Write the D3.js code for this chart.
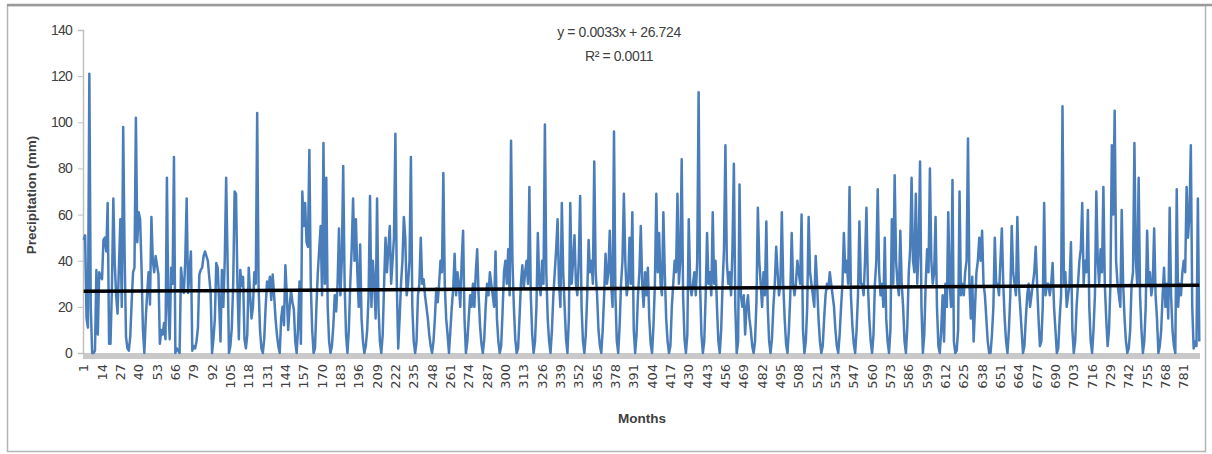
<!DOCTYPE html>
<html>
<head>
<meta charset="utf-8">
<script src="https://cdn.jsdelivr.net/npm/d3@7"></script>
<style>
  body { margin: 0; background: #fff; }
  svg text { fill: #404040; }
</style>
</head>
<body>
<div id="chart"></div>
<script>
////////////////////////////////////////////////////////////////////
////////////////////////////  Data  ////////////////////////////////
// monthly precipitation (mm), 12 values per row
const block1 = [
  49, 51, 15, 11, 121, 20, 0, 0, 1, 36, 8, 35,
  33, 32, 49, 50, 44, 65, 4, 4, 28, 67, 39, 25,
  17, 38, 58, 20, 98, 43, 7, 2, 1, 7, 22, 35,
  37, 102, 48, 61, 58, 37, 10, 0, 15, 26, 35, 21,
  59, 40, 35, 42, 38, 34, 4, 10, 8, 13, 6, 76,
  20, 6, 37, 30, 85, 0, 2, 1, 0, 37, 30, 26,
  40, 67, 26, 35, 44, 1, 3, 2, 5, 11, 34, 36,
  37, 42, 44, 42, 40, 33, 26, 0, 6, 15, 39, 37,
  22, 5, 36, 20, 40, 76, 40, 0, 3, 11, 30, 70,
  69, 30, 6, 36, 29, 33, 6, 2, 8, 37, 25, 15,
  20, 35, 30, 104, 29, 10, 2, 0, 6, 20, 31, 28
];
const block2 = [
  33, 23, 34, 25, 15, 8, 3, 0, 15, 20, 12, 38,
  25, 10, 20, 27, 22, 19, 5, 0, 11, 31, 4, 70,
  55, 65, 48, 46, 88, 30, 10, 0, 2, 20, 35, 45,
  55, 25, 91, 30, 76, 20, 5, 0, 3, 12, 25, 18,
  30, 54, 25, 40, 81, 30, 8, 0, 10, 30, 45, 67,
  40, 58, 35, 20, 47, 15, 5, 0, 3, 10, 25, 68,
  20, 40, 30, 15, 67, 20, 5, 0, 8, 30, 50, 35,
  45, 55, 30, 40, 50, 95, 30, 2, 15, 30, 40, 59,
  50, 25, 30, 40, 85, 20, 5, 0, 5, 25, 30, 50,
  30, 32, 25, 20, 15, 8, 3, 0, 5, 15, 28, 22,
  30, 40, 35, 78, 30, 15, 8, 0, 10, 20, 28, 43
];
const block3 = [
  25, 35, 30, 20, 40, 53, 15, 0, 5, 15, 25, 20,
  30, 20, 35, 45, 25, 12, 4, 0, 6, 20, 30, 25,
  35, 30, 25, 20, 44, 15, 5, 0, 3, 18, 35, 40,
  30, 45, 25, 92, 40, 20, 6, 0, 2, 15, 30, 38,
  28, 35, 40, 30, 72, 25, 8, 0, 5, 20, 52, 30,
  25, 40, 30, 99, 35, 15, 5, 0, 10, 25, 35, 45,
  58, 30, 20, 65, 35, 20, 6, 0, 15, 65, 30, 40,
  51, 30, 25, 40, 68, 20, 5, 0, 8, 25, 49, 35,
  40, 30, 83, 35, 25, 10, 3, 0, 10, 25, 43, 30,
  35, 53, 30, 20, 96, 25, 5, 0, 12, 30, 40, 69,
  40, 25, 30, 50, 30, 61, 10, 0, 8, 25, 35, 55
];
const block4 = [
  30, 20, 35, 25, 37, 15, 4, 0, 12, 30, 69, 35,
  52, 30, 25, 61, 35, 15, 5, 0, 3, 20, 30, 40,
  35, 69, 30, 40, 84, 25, 6, 0, 8, 58, 30, 25,
  30, 35, 25, 40, 113, 30, 8, 0, 5, 25, 52, 30,
  35, 25, 61, 30, 40, 20, 5, 0, 10, 30, 45, 90,
  40, 30, 35, 25, 45, 82, 20, 0, 5, 73, 25, 20,
  25, 8, 20, 25, 15, 10, 3, 0, 5, 22, 63, 40,
  30, 20, 35, 25, 57, 20, 5, 0, 6, 20, 30, 46,
  35, 25, 30, 61, 30, 15, 4, 0, 10, 25, 52, 30,
  25, 30, 40, 35, 30, 60, 10, 0, 5, 20, 59, 35,
  30, 25, 20, 42, 30, 15, 5, 0, 3, 15, 25, 30
];
const block5 = [
  28, 35, 30, 25, 20, 10, 3, 0, 8, 20, 30, 52,
  35, 40, 30, 72, 25, 12, 4, 0, 10, 25, 57, 30,
  30, 25, 40, 63, 30, 15, 5, 0, 8, 30, 40, 71,
  35, 25, 30, 20, 50, 15, 5, 0, 10, 58, 30, 77,
  40, 30, 25, 53, 30, 20, 5, 0, 12, 35, 45, 76,
  40, 35, 69, 30, 45, 83, 20, 0, 8, 30, 45, 35,
  80, 40, 30, 35, 59, 20, 3, 0, 10, 25, 5, 30,
  20, 61, 30, 20, 75, 5, 0, 1, 10, 70, 25, 30,
  25, 35, 40, 93, 30, 15, 33, 5, 20, 35, 40, 50,
  40, 53, 30, 25, 15, 5, 0, 0, 8, 20, 50, 30,
  30, 25, 40, 54, 30, 15, 5, 0, 10, 25, 55, 35
];
const block6 = [
  30, 25, 59, 30, 20, 10, 0, 3, 15, 25, 30, 20,
  25, 30, 35, 46, 30, 15, 3, 5, 20, 65, 25, 30,
  30, 25, 30, 39, 20, 10, 0, 2, 15, 25, 107, 30,
  35, 20, 25, 30, 48, 10, 0, 5, 20, 30, 40, 45,
  65, 30, 40, 35, 62, 20, 5, 0, 10, 25, 70, 40,
  30, 45, 35, 72, 30, 15, 3, 10, 30, 90, 60, 105,
  40, 30, 25, 20, 62, 30, 15, 5, 0, 2, 10, 30,
  35, 91, 40, 30, 76, 25, 10, 0, 5, 20, 53, 30,
  35, 25, 30, 54, 25, 15, 0, 3, 10, 25, 37, 20,
  30, 15, 63, 25, 10, 3, 0, 71, 20, 30, 25, 35,
  40, 35, 72, 50, 60, 90, 20, 2, 5, 3, 67, 5
];

const yTicks = [0, 20, 40, 60, 80, 100, 120, 140];
const xTickStep = 13; // labels 1, 14, 27, ... 781
const trendSlope = 0.0033;
const trendIntercept = 26.724;
const equationLines = ["y = 0.0033x + 26.724", "R² = 0.0011"];

const precip = [].concat(block1, block2, block3, block4, block5, block6);
const data = precip.map((v, i) => ({ month: i + 1, value: v }));
const months = data.map((d) => d.month);
const xTicks = months.filter((m) => (m - 1) % xTickStep === 0);

////////////////////////////////////////////////////////////////////
////////////////////////////  Init  ////////////////////////////////
const width = 1212;
const height = 454;
const margin = { top: 30, right: 12, bottom: 101, left: 83 };
const narrowFont = "'Liberation Sans', Arial, sans-serif";

const svg = d3
  .select("#chart")
  .append("svg")
  .attr("width", width)
  .attr("height", height);

// frame of the chart area
svg
  .append("rect")
  .attr("x", 7.5)
  .attr("y", 5.5)
  .attr("width", 1198)
  .attr("height", 446)
  .attr("fill", "#fff")
  .attr("stroke", "#b4b4b4")
  .attr("stroke-width", 1.5);
svg
  .append("line")
  .attr("x1", 7)
  .attr("x2", width)
  .attr("y1", 5)
  .attr("y2", 5)
  .attr("stroke", "#9a9a9a")
  .attr("stroke-width", 2.5);

// scales
const xScale = d3
  .scaleBand()
  .domain(months)
  .range([margin.left, width - margin.right]);
const xPos = (m) => xScale(m) + xScale.bandwidth() / 2;

const yScale = d3
  .scaleLinear()
  .domain([0, 140])
  .range([height - margin.bottom, margin.top]);

// floor band under the plot
svg
  .append("rect")
  .attr("x", margin.left)
  .attr("y", yScale(0))
  .attr("width", xScale.range()[1] - margin.left)
  .attr("height", 6)
  .attr("fill", "#c9c9c9");

// y axis
const yAxis = d3.axisLeft(yScale).tickValues(yTicks).tickSize(5).tickPadding(6);
const yAxisGroup = svg
  .append("g")
  .attr("transform", `translate(${margin.left}, 0)`)
  .call(yAxis);
yAxisGroup.select(".domain").attr("stroke", "#c0c0c0").attr("stroke-width", 1.5);
yAxisGroup.selectAll(".tick line").attr("stroke", "#c0c0c0");
yAxisGroup
  .selectAll("text")
  .attr("font-family", narrowFont)
  .attr("font-size", 14)
  .attr("letter-spacing", -0.8)
  .attr("fill", "#404040");

// x axis (rotated labels)
const xAxis = d3.axisBottom(xScale).tickValues(xTicks).tickSize(0).tickPadding(0);
const xAxisGroup = svg
  .append("g")
  .attr("transform", `translate(0, ${yScale(0) + 8})`)
  .call(xAxis);
xAxisGroup.select(".domain").remove();
xAxisGroup
  .selectAll("text")
  .attr("font-family", "'DejaVu Sans', Verdana, sans-serif")
  .attr("font-size", 13)
  .attr("fill", "#404040")
  .attr("text-anchor", "end")
  .attr("transform", "rotate(-90)")
  .attr("x", -3)
  .attr("y", 0)
  .attr("dy", "0.35em");

// axis titles
svg
  .append("text")
  .attr("transform", `translate(36, 195) rotate(-90)`)
  .attr("text-anchor", "middle")
  .attr("font-family", "'Liberation Sans', Arial, sans-serif")
  .attr("font-weight", "bold")
  .attr("font-size", 13.5)
  .attr("fill", "#333")
  .text("Precipitation (mm)");

svg
  .append("text")
  .attr("x", 642)
  .attr("y", 423)
  .attr("text-anchor", "middle")
  .attr("font-family", "'Liberation Sans', Arial, sans-serif")
  .attr("font-weight", "bold")
  .attr("font-size", 13.5)
  .attr("fill", "#333")
  .text("Months");

// precipitation line
const line = d3
  .line()
  .x((d) => xPos(d.month))
  .y((d) => yScale(d.value));

svg
  .append("path")
  .datum(data)
  .attr("fill", "none")
  .attr("stroke", "#4a7ebb")
  .attr("stroke-width", 2.5)
  .attr("stroke-linejoin", "round")
  .attr("d", line);

// linear trend line
const trendData = [months[0], months[months.length - 1]].map((m) => ({
  month: m,
  value: trendSlope * m + trendIntercept,
}));
svg
  .append("path")
  .datum(trendData)
  .attr("fill", "none")
  .attr("stroke", "#000")
  .attr("stroke-width", 3.5)
  .attr("d", line);

// equation label
svg
  .selectAll(".eq")
  .data(equationLines)
  .enter()
  .append("text")
  .attr("class", "eq")
  .attr("x", 619)
  .attr("y", (d, i) => 37 + i * 24)
  .attr("text-anchor", "middle")
  .attr("font-family", narrowFont)
  .attr("font-size", 14)
  .attr("letter-spacing", -0.4)
  .text((d) => d);
</script>
</body>
</html>
